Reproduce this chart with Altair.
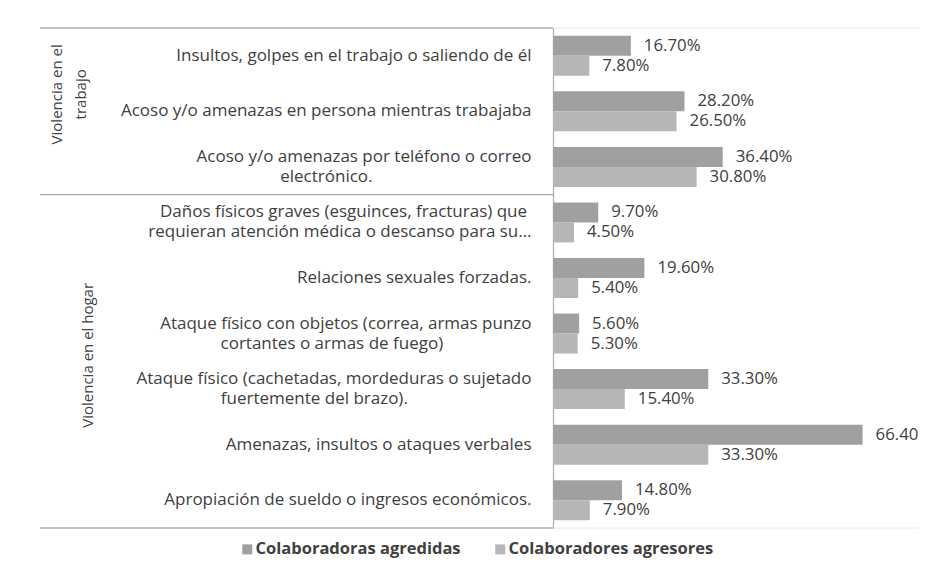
import altair as alt
import pandas as pd

# ---------------- data ----------------
groups = ["Violencia en el|trabajo", "Violencia en el hogar"]
group_first_row = [0, 3]
group_last_row = [3, 9]

categories = [
    "Insultos, golpes en el trabajo o saliendo de él",
    "Acoso y/o amenazas en persona mientras trabajaba",
    "Acoso y/o amenazas por teléfono o correo|electrónico.",
    "Daños físicos graves (esguinces, fracturas) que|requieran atención médica o descanso para su…",
    "Relaciones sexuales forzadas.",
    "Ataque físico con objetos (correa, armas punzo|cortantes o armas de fuego)",
    "Ataque físico (cachetadas, mordeduras o sujetado|fuertemente del brazo).",
    "Amenazas, insultos o ataques verbales",
    "Apropiación de sueldo o ingresos económicos.",
]
series = ["Colaboradoras agredidas", "Colaboradores agresores"]
agredidas = [16.7, 28.2, 36.4, 9.7, 19.6, 5.6, 33.3, 66.4, 14.8]
agresores = [7.8, 26.5, 30.8, 4.5, 5.4, 5.3, 15.4, 33.3, 7.9]

# ---------------- styling ----------------
FONT = "Open Sans"
TXT = "#404040"
COLORS = ["#a0a0a3", "#b6b6b9"]
W, H = 373, 500
LAB_SIZE = 17.0
GRP_SIZE = 15.0
VAL_SIZE = 16.8
LINE_H = 20
# trailing no-break spaces (closed by a zero-width char so they are not trimmed)
# so that wrapped lines sit centred the way Excel draws them
LINE_PAD = {2: [0, 36], 3: [1, 0], 5: [0, 20], 6: [0, 28]}


def pad(line, n):
    return line + "\u00a0" * n + "\u200b" if n else line


labels = []
for i, c in enumerate(categories):
    lines = c.split("|")
    pads = LINE_PAD.get(i, [0] * len(lines))
    labels.append("|".join(pad(l, p) for l, p in zip(lines, pads)))

rows = []
for i, lab in enumerate(labels):
    for s, vals in zip(series, [agredidas, agresores]):
        rows.append({"cat": lab, "serie": s, "valor": vals[i]})
df = pd.DataFrame(rows)

band_scale = alt.Scale(paddingInner=0, paddingOuter=0)
y_axis = alt.Axis(
    title=None, orient="left", labelExpr="split(datum.label, '|')",
    labelFont=FONT, labelFontSize=LAB_SIZE, labelColor=TXT, labelPadding=22,
    labelLimit=700, labelLineHeight=LINE_H, ticks=False, domainColor="#b0b0b0",
    domainWidth=1.3, labelAlign="right", labelBaseline="middle", grid=False,
    # centre two-line labels on their row
    labelOffset={"condition": {"test": "indexof(datum.value, '|') >= 0",
                               "value": -LINE_H / 2}, "value": 0},
)


def ycat(bp=0.5):
    return alt.Y("cat:N", sort=labels, scale=band_scale, bandPosition=bp, axis=y_axis)


x_enc = alt.X("valor:Q", scale=alt.Scale(domain=[0, 80], nice=False), axis=None)
yoff = alt.YOffset("serie:N", sort=series,
                   scale=alt.Scale(paddingInner=0, paddingOuter=0.389))

bars = alt.Chart(df).mark_bar().encode(
    y=alt.Y("cat:N", sort=labels, scale=band_scale, axis=y_axis), x=x_enc, yOffset=yoff,
    color=alt.Color("serie:N", sort=series,
                    scale=alt.Scale(domain=series, range=COLORS),
                    legend=alt.Legend(title=None, orient="none", legendX=-314, legendY=513,
                                      direction="horizontal", symbolType="square",
                                      symbolSize=100, symbolStrokeWidth=0,
                                      labelFont=FONT, labelFontSize=16.5, labelFontWeight="bold",
                                      labelColor=TXT, columnPadding=31, labelOffset=0,
                                      labelLimit=400, padding=0)),
)
vals = alt.Chart(df).transform_calculate(
    etiqueta="format(datum.valor, '.2f') + '%'"
).mark_text(align="left", baseline="middle", dx=13, font=FONT, fontSize=VAL_SIZE, color=TXT).encode(
    y=alt.Y("cat:N", sort=labels, scale=band_scale, axis=y_axis),
    x=x_enc, yOffset=yoff, text="etiqueta:N",
)

# group boundaries (multi-level category axis lines)
starts_df = pd.DataFrame({"cat": [labels[i] for i in group_first_row]})
end_df = pd.DataFrame({"cat": [labels[group_last_row[-1] - 1]]})
first_df = pd.DataFrame({"cat": [labels[group_first_row[0]]]})

left_start = alt.Chart(starts_df).mark_rule(color="#ababab", strokeWidth=1.3).encode(
    y=ycat(0), x=alt.value(-513), x2=alt.value(0))
left_end = alt.Chart(end_df).mark_rule(color="#ababab", strokeWidth=1.3).encode(
    y=ycat(1), x=alt.value(-513), x2=alt.value(0))
right_top = alt.Chart(first_df).mark_rule(color="#e6e6e6", strokeWidth=1).encode(
    y=ycat(0), x=alt.value(0), x2=alt.value(W))
right_bottom = alt.Chart(end_df).mark_rule(color="#e6e6e6", strokeWidth=1).encode(
    y=ycat(1), x=alt.value(0), x2=alt.value(W))

# group titles at the middle of their rows
gtexts = []
for g, a, b, xpos, dx, lh in zip(groups, group_first_row, group_last_row,
                                 [-496, -465], [17, 6], [24, 20]):
    mid = (a + b) / 2
    r = int(mid)
    gdf = pd.DataFrame({"cat": [labels[r]], "grupo": [g]})
    gtexts.append(alt.Chart(gdf).mark_text(
        angle=270, align="center", baseline="middle", lineBreak="|", dx=dx,
        font=FONT, fontSize=GRP_SIZE, color=TXT, lineHeight=lh
    ).encode(y=ycat(mid - r), x=alt.value(xpos), text="grupo:N"))

one = pd.DataFrame({"a": [0]})
border_top = alt.Chart(one).mark_rule(color="#bdbdbd", strokeWidth=1).encode(
    x=alt.value(-546), x2=alt.value(W), y=alt.value(-20.5))
border_left = alt.Chart(one).mark_rule(color="#bdbdbd", strokeWidth=1).encode(
    x=alt.value(-545.5), y=alt.value(-21), y2=alt.value(H + 32))

chart = alt.layer(bars, vals, right_top, right_bottom, left_start, left_end,
                  border_top, border_left, *gtexts).properties(
    width=W, height=H,
    autosize=alt.AutoSizeParams(type="none"),
    padding={"left": 545, "top": 20, "right": -7, "bottom": 32},
).configure_view(stroke=None)

chart.save("out.html", embed_options={"renderer": "svg", "actions": False})
